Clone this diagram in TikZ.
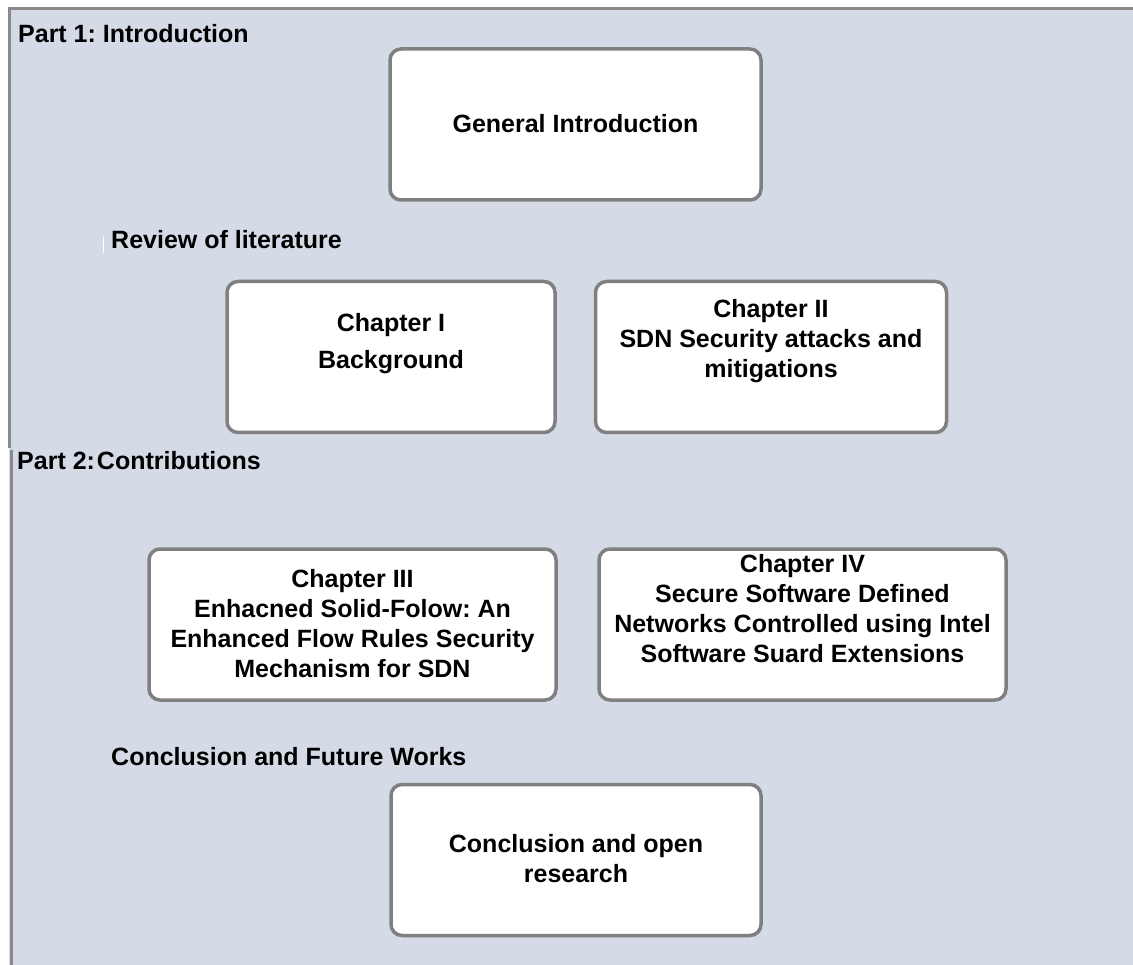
\documentclass[tikz,border=0pt]{standalone}
\usepackage{fontspec}
\setmainfont{Liberation Sans}
\usetikzlibrary{calc}
\frenchspacing
\definecolor{panelbg}{RGB}{213,219,230}
\definecolor{framegray}{RGB}{138,138,138}
\definecolor{boxgray}{RGB}{128,128,128}
\tikzset{
  chapterbox/.style={draw=boxgray, line width=3.5pt, fill=white, rounded corners=11pt,
    inner sep=0pt},
  boxtext/.style={font=\bfseries\fontsize{25}{30}\selectfont, align=center, inner sep=0pt},
  parttitle/.style={font=\bfseries\fontsize{25}{30}\selectfont, anchor=base west, inner sep=0pt},
  frameline/.style={draw=framegray, line width=3pt},
}
\begin{document}
\begin{tikzpicture}[x=1pt,y=-1pt]
\useasboundingbox (0,0) rectangle (1133,965);
% panel background and its frame
\fill[panelbg] (9,9) rectangle (1133,965);
\coordinate (ftl) at (9,9);
\coordinate (ftr) at (1133,9);
\coordinate (fml) at (9,448);
\coordinate (fll) at (11,450);
\coordinate (fbl) at (11,965);
\draw[frameline] (ftr) -- (ftl) -- (fml);
\draw[frameline] (fll) -- (fbl);
% small cursor mark
\coordinate (cura) at (103,236);
\coordinate (curb) at (103,253);
\draw[white, line width=1pt] (cura) -- (curb);

% section titles
\node[parttitle] (p1) at (18,43) {Part 1: Introduction};
\node[parttitle] (rev) at (111,249) {Review of literature};
\node[parttitle] (p2) at (17,470) {Part 2:\kern2pt Contributions};
\node[parttitle] (concl) at (111,765) {Conclusion and Future Works};

% chapter boxes
\node[chapterbox, minimum width=371pt, minimum height=151pt] (gi) at (575.5,124.5) {};
\node[chapterbox, minimum width=328pt, minimum height=151pt] (c1) at (391,357) {};
\node[chapterbox, minimum width=351pt, minimum height=151pt] (c2) at (771,357) {};
\node[chapterbox, minimum width=407pt, minimum height=151pt] (c3) at (352.5,624.5) {};
\node[chapterbox, minimum width=407pt, minimum height=151pt] (c4) at (802.5,624.5) {};
\node[chapterbox, minimum width=370pt, minimum height=151pt] (cc) at (576,860) {};

% box texts
\node[boxtext] (gitxt) at ($(gi.center)+(0,-1)$) {General Introduction};
\node[boxtext] (c1txt) at ($(c1.center)+(0,-13)$) {Chapter I\\[7pt]Background};
\node[boxtext] (c2txt) at ($(c2.center)+(0,-16)$) {Chapter II\\SDN Security attacks and\\mitigations};
\node[boxtext] (c3txt) at ($(c3.center)+(0,-1)$) {Chapter III\\Enhacned Solid-Folow: An\\Enhanced Flow Rules Security\\Mechanism for SDN};
\node[boxtext] (c4txt) at ($(c4.center)+(0,-16)$) {Chapter IV\\Secure Software Defined\\Networks Controlled using Intel\\Software Suard Extensions};
\node[boxtext] (cctxt) at ($(cc.center)+(0,-1)$) {Conclusion and open\\research};
\end{tikzpicture}
\end{document}
